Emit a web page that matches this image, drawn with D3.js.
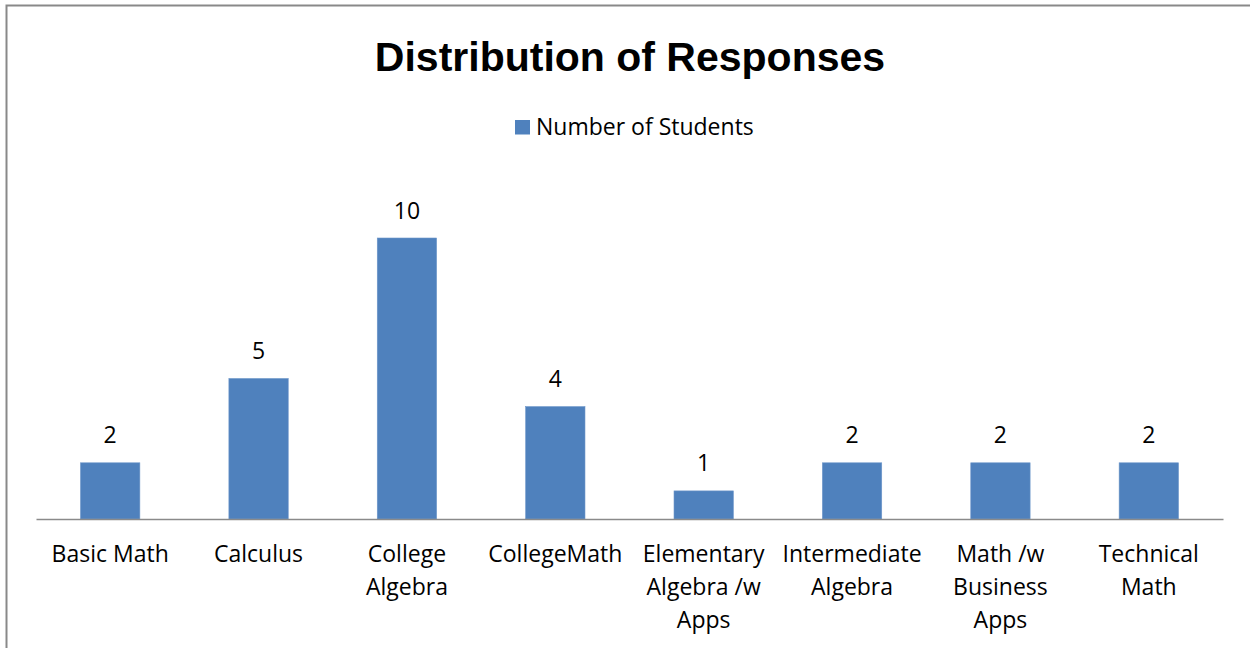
<!DOCTYPE html>
<html>
<head>
<meta charset="utf-8">
<script src="https://cdn.jsdelivr.net/npm/d3@7"></script>
<style>
  html, body { margin: 0; padding: 0; background: #fff; }
  svg { display: block; }
</style>
</head>
<body>
<svg id="chart" width="1250" height="648"></svg>
<script>
const title = "Distribution of Responses";
const seriesName = "Number of Students";
const categories = ["Basic Math", "Calculus", "College Algebra", "CollegeMath",
  "Elementary Algebra /w Apps", "Intermediate Algebra", "Math /w Business Apps", "Technical Math"];
const categoryLines = [["Basic Math"], ["Calculus"], ["College", "Algebra"], ["CollegeMath"],
  ["Elementary", "Algebra /w", "Apps"], ["Intermediate", "Algebra"], ["Math /w", "Business", "Apps"], ["Technical", "Math"]];
const values = [2, 5, 10, 4, 1, 2, 2, 2];

const svg = d3.select("#chart");
const barColor = "#4F81BD";
const font = "'Open Sans', 'Liberation Sans', sans-serif";
const fs = 23;

// chart border (extends beyond the window on right/bottom)
svg.append("rect").attr("x", 6.5).attr("y", 5.5).attr("width", 1300).attr("height", 700)
  .attr("fill", "#fff").attr("stroke", "#898989").attr("stroke-width", 2);

const x = d3.scaleBand().domain(categories).range([36, 1223]).paddingInner(0.6).paddingOuter(0.3);
const y = d3.scaleLinear().domain([0, 12]).range([519, 519 - 12 * 28.1]);

// title
svg.append("text").attr("x", 630).attr("y", 71).attr("text-anchor", "middle")
  .attr("font-family", "'Liberation Sans', Arial, sans-serif").attr("font-weight", "bold")
  .attr("font-size", 41).attr("fill", "#000").text(title);

// legend
const lg = svg.append("g");
lg.append("rect").attr("x", 515).attr("y", 120).attr("width", 15).attr("height", 14.5).attr("fill", barColor);
lg.append("text").attr("x", 536).attr("y", 134.5).attr("font-family", font).attr("font-size", fs)
  .attr("fill", "#000").text(seriesName);

// bars
svg.selectAll("rect.bar").data(values).enter().append("rect").attr("class", "bar")
  .attr("x", (d, i) => x(categories[i])).attr("width", x.bandwidth())
  .attr("y", d => y(d)).attr("height", d => y(0) - y(d))
  .attr("fill", barColor).attr("stroke", "#6d96c9").attr("stroke-width", 0.6);

// value labels
svg.selectAll("text.val").data(values).enter().append("text").attr("class", "val")
  .attr("x", (d, i) => x(categories[i]) + x.bandwidth() / 2).attr("y", d => y(d) - 19.5)
  .attr("text-anchor", "middle").attr("font-family", font).attr("font-size", fs).attr("fill", "#000")
  .text(d => d);

// x axis
const axis = d3.axisBottom(x).tickSize(0).tickFormat("");
const ag = svg.append("g").attr("transform", `translate(0,${y(0)})`).call(axis);
ag.select(".domain").attr("stroke", "#8a8a8a").attr("stroke-width", 1.6);

// category labels
categories.forEach((c, i) => {
  const t = svg.append("text").attr("text-anchor", "middle").attr("font-family", font)
    .attr("font-size", fs).attr("fill", "#000");
  categoryLines[i].forEach((line, j) => {
    t.append("tspan").attr("x", x(c) + x.bandwidth() / 2).attr("y", y(0) + 42.5 + j * 33).text(line);
  });
});
</script>
</body>
</html>
